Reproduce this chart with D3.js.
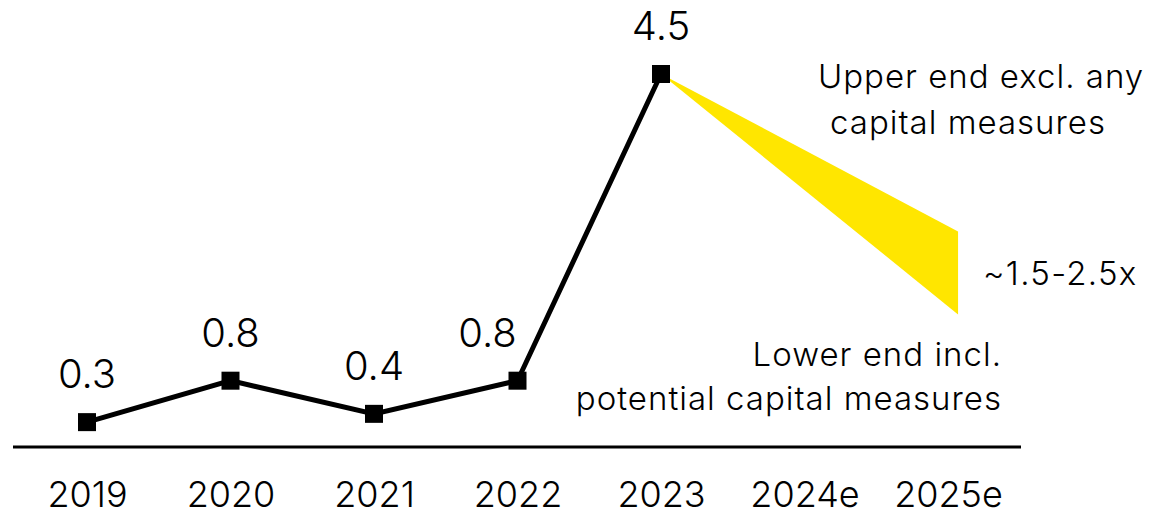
<!DOCTYPE html>
<html>
<head>
<meta charset="utf-8">
<script src="https://cdn.jsdelivr.net/npm/d3@7"></script>
<style>
  html, body { margin: 0; padding: 0; background: #fff; }
  svg { display: block; }
  text { font-family: Inter, "Open Sans", sans-serif; font-weight: 300; fill: #000; }
</style>
</head>
<body>
<svg id="chart" width="1153" height="516"></svg>
<script>
// Categories along the x axis
const years = ["2019", "2020", "2021", "2022", "2023", "2024e", "2025e"];
// Reported multiples
const actualYears = ["2019", "2020", "2021", "2022", "2023"];
const actualValues = [0.3, 0.8, 0.4, 0.8, 4.5];
const valueLabels = ["0.3", "0.8", "0.4", "0.8", "4.5"];
// Outlook range for 2025e (upper / lower end)
const rangeYear = "2025e";
const rangeUpper = 2.6;
const rangeLower = 1.6;
const rangeLabel = "~1.5-2.5x";
const upperNote = ["Upper end excl. any", "capital measures"];
const lowerNote = ["Lower end incl.", "potential capital measures"];

const FONT = "Inter, 'Open Sans', sans-serif";
const svg = d3.select("#chart");

const x = d3.scalePoint().domain(years).range([87, 948]);
const y = d3.scaleLinear().domain([0, 4.5]).range([447, 74]);

// Outlook fan from the last reported point to the 2025e range
const x0 = x("2023"), y0 = y(4.5);
const xr = x(rangeYear) + x.step() * 0.07;
svg.append("path")
  .attr("d", d3.line()([[x0, y0], [xr, y(rangeUpper)], [xr, y(rangeLower)]]) + "Z")
  .attr("fill", "#FFE600");

// Baseline axis
const xAxis = d3.axisBottom(x).tickSize(0).tickPadding(34);
const gx = svg.append("g").attr("transform", `translate(0,${y(0)})`).call(xAxis);
gx.select(".domain").attr("d", `M13,0H1021`).attr("stroke", "#000").attr("stroke-width", 3);
gx.selectAll(".tick text").attr("font-size", 36)
  .attr("font-family", FONT).attr("font-weight", 300).attr("fill", "#000");

// Reported line
const pts = actualYears.map((d, i) => [x(d), y(actualValues[i])]);
svg.append("path")
  .attr("d", d3.line()(pts))
  .attr("fill", "none").attr("stroke", "#000").attr("stroke-width", 5)
  .attr("stroke-linejoin", "miter");

// Square markers
const s = 18;
svg.selectAll("rect.m").data(pts).join("rect")
  .attr("class", "m")
  .attr("x", d => d[0] - s / 2).attr("y", d => d[1] - s / 2)
  .attr("width", s).attr("height", s).attr("fill", "#000");

// Value labels (the 2022 label sits left of the rising segment)
const labelShift = { "2022": -30 };
svg.selectAll("text.v").data(actualYears).join("text")
  .attr("class", "v")
  .attr("x", d => x(d) + (labelShift[d] || 0))
  .attr("y", (d, i) => y(actualValues[i]) - 34)
  .attr("text-anchor", "middle").attr("font-size", 40)
  .text((d, i) => valueLabels[i]);

// Range annotations
const noteSize = 33, noteSpacing = 1;
svg.append("text").attr("x", 983).attr("y", (y(rangeUpper) + y(rangeLower)) / 2 + 12)
  .attr("font-size", noteSize).attr("letter-spacing", 1.3).text(rangeLabel);

const upperX = [981, 968];
svg.selectAll("text.u").data(upperNote).join("text")
  .attr("class", "u")
  .attr("x", (d, i) => upperX[i]).attr("y", (d, i) => 88 + i * 46)
  .attr("text-anchor", "middle").attr("font-size", noteSize)
  .attr("letter-spacing", noteSpacing).text(d => d);

svg.selectAll("text.l").data(lowerNote).join("text")
  .attr("class", "l")
  .attr("x", 1002).attr("y", (d, i) => 366 + i * 44)
  .attr("text-anchor", "end").attr("font-size", noteSize)
  .attr("letter-spacing", noteSpacing).text(d => d);
</script>
</body>
</html>
